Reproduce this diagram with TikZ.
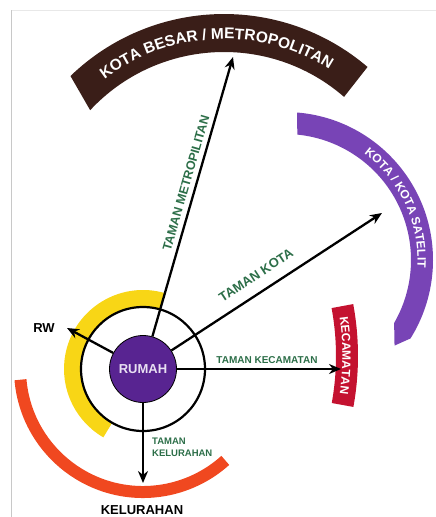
\documentclass[tikz,border=0pt]{standalone}
\usepackage{fontspec}
\setmainfont{Liberation Sans}
\usetikzlibrary{decorations.text,arrows.meta,calc}
\definecolor{brownband}{RGB}{58,30,24}
\definecolor{kotapurple}{RGB}{120,68,182}
\definecolor{rumahpurple}{RGB}{88,36,145}
\definecolor{rumahtext}{RGB}{232,224,242}
\definecolor{kecred}{RGB}{196,18,48}
\definecolor{kelorange}{RGB}{240,72,32}
\definecolor{rwyellow}{RGB}{248,214,22}
\definecolor{tamangreen}{RGB}{44,110,72}
\definecolor{framegray}{RGB}{200,200,200}
\definecolor{framelight}{RGB}{232,232,232}
\begin{document}
\begin{tikzpicture}[x=1pt,y=1pt,
  arr/.style={draw=black, line width=2.3pt, -{Stealth[length=12pt,width=10pt]}},
  glbl/.style={text=tamangreen, inner sep=0pt},
  blbl/.style={text=black, inner sep=0pt, font=\bfseries\fontsize{13}{13}\selectfont},
]
\useasboundingbox (0,0) rectangle (436,-517);
\draw[framegray, line width=1pt] (11.5,-517) -- (11.5,-10);
\draw[framelight, line width=0.8pt] (11.5,-10) -- (436,-10);

\coordinate (H) at (143,-369);
\coordinate (B) at (224,-235);
\coordinate (P) at (285,-260);
\coordinate (K) at (73,-356);

% KOTA BESAR / METROPOLITAN band
\fill[brownband] ($(B)+(134:221)$) arc[start angle=134,end angle=49.5,radius=221]
  -- ($(B)+(49:183)$) arc[start angle=49,end angle=137,radius=183] -- cycle;
\path[decorate, decoration={text along path, text align=center,
  text={|\bfseries\fontsize{15.5}{15.5}\selectfont\color{white}|KOTA BESAR / METROPOLITAN}}]
  ($(B)+(136:196)$) arc[start angle=136,end angle=49,radius=196];

% KOTA / KOTA SATELIT band
\fill[kotapurple] ($(P)+(85.3:148)$) arc[start angle=85.3,end angle=-32,radius=148]
  -- ($(P)+(-38:139)$) -- ($(P)+(-30:126)$)
  arc[start angle=-30,end angle=84.4,radius=126] -- cycle;
\path[decorate, decoration={text along path, text align=center,
  text={|\bfseries\fontsize{12}{12}\selectfont\color{white}|KOTA / KOTA SATELIT}}]
  ($(P)+(84:132.5)$) arc[start angle=84,end angle=-34,radius=132.5];

% KECAMATAN band
\fill[kecred] ($(K)+(10.5:285)$) arc[start angle=10.5,end angle=-10.3,radius=285]
  -- ($(K)+(-10.3:263)$) arc[start angle=-10.3,end angle=10.5,radius=263] -- cycle;
\path[decorate, decoration={text along path, text align=center,
  text={|\bfseries\fontsize{12}{12}\selectfont\color{white}|KECAMATAN}}]
  ($(K)+(10.5:269.5)$) arc[start angle=10.5,end angle=-10.3,radius=269.5];

% KELURAHAN arc
\draw[kelorange, line width=12pt] ($(H)+(185:123)$) arc[start angle=185,end angle=312,radius=123];
% RW arc
\draw[rwyellow, line width=17pt] ($(H)+(74:70.5)$) arc[start angle=74,end angle=240,radius=70.5];

% ring and house
\node[circle, draw=black, line width=2.2pt, minimum size=124pt, inner sep=0pt] (ring) at (H) {};
\node[circle, fill=rumahpurple, draw=black, line width=0.8pt, minimum size=67pt, inner sep=0pt,
  text=rumahtext, font=\bfseries\fontsize{13}{13}\selectfont] (rumah) at (H) {RUMAH};

% arrow tips
\coordinate (tmetro) at (233,-57);
\coordinate (tkota) at (382,-213);
\coordinate (tkec) at (341,-369);
\coordinate (tkel) at (143,-483);
\coordinate (trw) at (67,-328);

\draw[arr] (rumah) -- (tmetro);
\draw[arr] (rumah) -- (tkota);
\draw[arr] (rumah) -- (tkec);
\draw[arr] (rumah) -- (tkel);
\draw[arr] (rumah) -- (trw);

% labels
\node[glbl, rotate=73.9, font=\bfseries\fontsize{12.5}{12.5}\selectfont] (lmetro) at (186,-183) {TAMAN METROPILITAN};
\node[glbl, rotate=33.1, font=\bfseries\fontsize{13}{13}\selectfont] (lkota) at (256,-275) {TAMAN KOTA};
\node[glbl, font=\bfseries\fontsize{10}{10}\selectfont] (lkec) at (267,-360) {TAMAN KECAMATAN};
\node[glbl, anchor=west, align=left, font=\bfseries\fontsize{9.5}{11.5}\selectfont] (lkel) at (152,-447.5) {TAMAN\\KELURAHAN};
\node[blbl] (rw) at (44,-328) {RW};
\node[blbl] (kel) at (142,-510) {KELURAHAN};
\end{tikzpicture}
\end{document}
